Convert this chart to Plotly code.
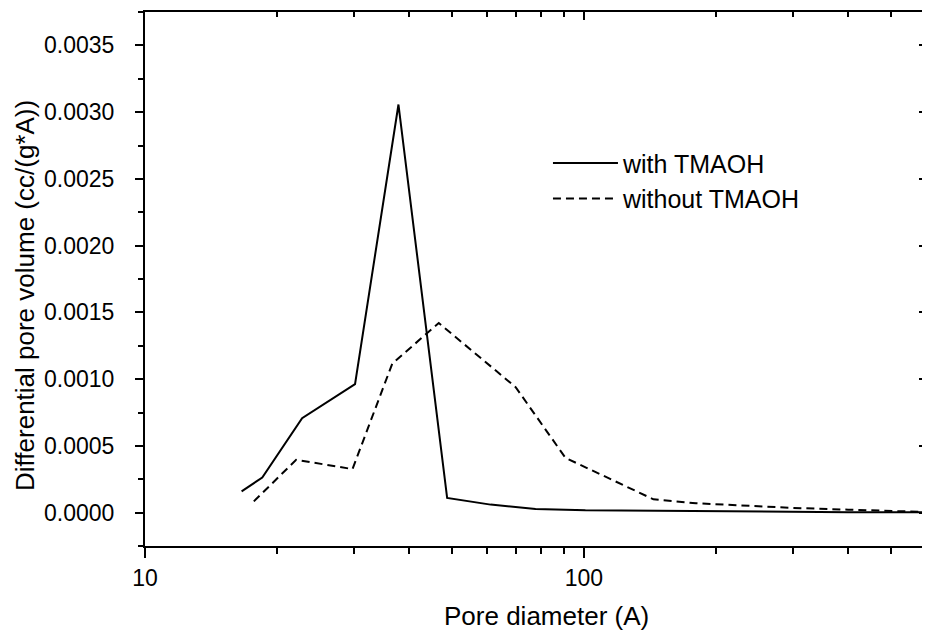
import plotly.graph_objects as go
import math

# Data
with_x = [16.6, 18.5, 22.8, 30.1, 37.8, 48.8, 61.3, 77.6, 100.8, 150, 200, 300, 400, 590]
with_y = [0.000159, 0.000263, 0.000707, 0.000963, 0.003057, 0.000110, 0.000060,
          0.000028, 0.000017, 0.000012, 0.000008, 0.000005, 0.000003, 0.000002]

without_x = [17.7, 22.1, 29.7, 36.6, 46.7, 69.9, 90.8, 144, 180, 250, 300, 400, 500, 600]
without_y = [0.000084, 0.000396, 0.000326, 0.001117, 0.001420, 0.000940, 0.000410,
             0.000100, 0.000070, 0.000047, 0.000035, 0.000022, 0.000012, 0.000005]

x_major = [10, 100]
x_minor = [20, 30, 40, 50, 60, 70, 80, 90, 200, 300, 400, 500, 600]
y_major = [0.0, 0.0005, 0.0010, 0.0015, 0.0020, 0.0025, 0.0030, 0.0035]

x_title = "Pore diameter (A)"
y_title = "Differential pore volume (cc/(g*A))"

x_range = [1, math.log10(605)]
y_range = [-0.00025, 0.00375]

FONT = "Liberation Sans, Arial, sans-serif"

fig = go.Figure()
fig.add_trace(go.Scatter(x=with_x, y=with_y, mode="lines", name="with TMAOH",
                         line=dict(color="black", width=2)))
fig.add_trace(go.Scatter(x=without_x, y=without_y, mode="lines", name="without TMAOH",
                         line=dict(color="black", width=2, dash="8px,5px")))
# invisible trace to bind the mirrored top/right axes
fig.add_trace(go.Scatter(x=with_x, y=with_y, mode="lines", xaxis="x2", yaxis="y2",
                         line=dict(color="rgba(0,0,0,0)"), showlegend=False,
                         hoverinfo="skip"))

fig.update_layout(
    width=922, height=622,
    margin=dict(l=137, r=3, t=4, b=84),
    paper_bgcolor="white", plot_bgcolor="white",
    font=dict(family=FONT, color="black", size=23),
    showlegend=True,
    legend=dict(x=0.5153, y=0.760, xanchor="left", yanchor="top",
                bgcolor="rgba(0,0,0,0)", borderwidth=0,
                font=dict(size=25, family=FONT), itemwidth=65,
                tracegroupgap=0),
    xaxis=dict(type="log", range=x_range, showgrid=False, zeroline=False,
               automargin=False,
               showline=True, linecolor="black", linewidth=2,
               ticks="outside", ticklen=10, tickwidth=2, tickcolor="black",
               tickvals=x_major, ticktext=["10", "100"],
               tickfont=dict(size=23), ticklabelstandoff=0,
               minor=dict(tickvals=x_minor, ticks="outside", ticklen=6,
                          tickwidth=2, tickcolor="black", showgrid=False)),
    yaxis=dict(range=y_range, showgrid=False, zeroline=False,
               automargin=False,
               showline=True, linecolor="black", linewidth=2,
               ticks="outside", ticklen=8, tickwidth=2, tickcolor="black",
               tickvals=y_major, tickformat=".4f",
               tickfont=dict(size=23), ticklabelstandoff=16,
               minor=dict(dtick=0.00025, tick0=0, ticks="outside", ticklen=5,
                          tickwidth=2, tickcolor="black", showgrid=False)),
    xaxis2=dict(type="log", range=x_range, overlaying="x", side="top",
                anchor="y2", showgrid=False, zeroline=False, automargin=False,
                showline=True, linecolor="black", linewidth=2,
                ticks="inside", ticklen=8, tickwidth=2, tickcolor="black",
                tickvals=x_major, showticklabels=False,
                minor=dict(tickvals=x_minor, ticks="inside", ticklen=5,
                           tickwidth=2, tickcolor="black", showgrid=False)),
    yaxis2=dict(range=y_range, overlaying="y", side="right", anchor="x2",
                showgrid=False, zeroline=False, automargin=False,
                showline=True, linecolor="black", linewidth=2,
                ticks="inside", ticklen=8, tickwidth=2, tickcolor="black",
                tickvals=y_major, showticklabels=False,
                minor=dict(dtick=0.00025, tick0=0, ticks="inside", ticklen=4,
                           tickwidth=2, tickcolor="black", showgrid=False)),
    annotations=[
        dict(text=x_title, xref="paper", yref="paper", x=0.514, y=-0.131,
             xanchor="center", yanchor="middle", showarrow=False,
             font=dict(size=26, family=FONT, color="black")),
        dict(text=y_title, xref="paper", yref="paper", x=-0.1535, y=0.47,
             xanchor="center", yanchor="middle", showarrow=False, textangle=-90,
             font=dict(size=26, family=FONT, color="black")),
    ],
)

fig.write_html("out.html")
